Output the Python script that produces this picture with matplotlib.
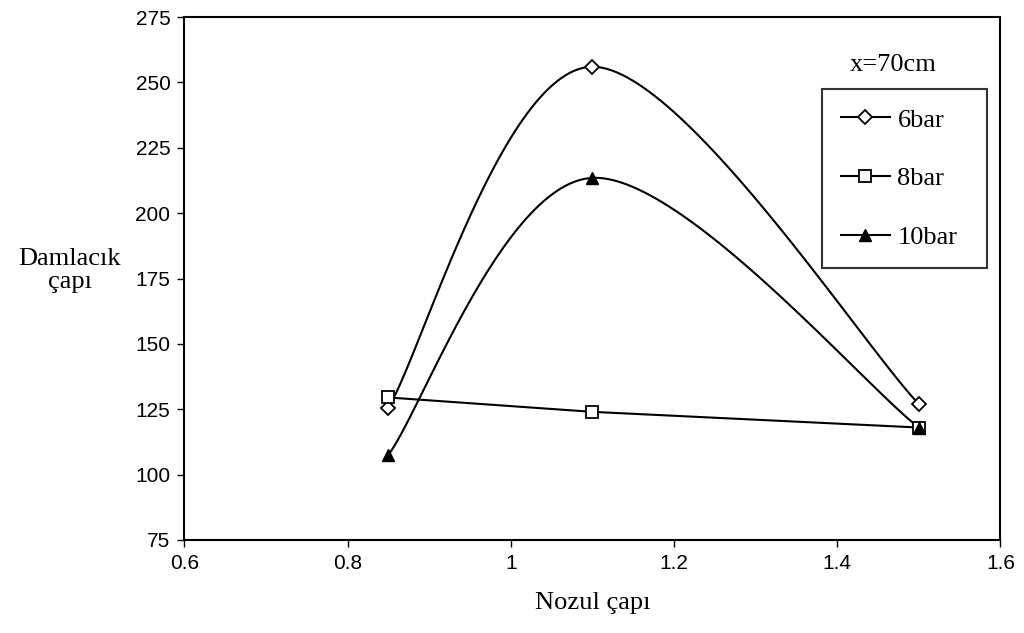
import numpy as np
import matplotlib
matplotlib.use("Agg")
import matplotlib.pyplot as plt
from matplotlib.lines import Line2D

# ── veri ─────────────────────────────────────────────────────────────
nozul = [0.85, 1.1, 1.5]
bar6 = [125.5, 256.0, 127.0]
bar8 = [129.5, 124.0, 118.0]
bar10 = [107.5, 213.5, 118.0]
series_labels = ["6bar", "8bar", "10bar"]

SERIF = ["Liberation Serif", "DejaVu Serif"]
SANS = ["Liberation Sans", "DejaVu Sans"]

fig = plt.figure(figsize=(10.24, 6.33), dpi=100)
ax = fig.add_axes([0.18, 0.147, 0.797, 0.826])
ax.set_xlim(0.6, 1.6)
ax.set_ylim(75, 275)
ax.set_xticks([0.6, 0.8, 1.0, 1.2, 1.4, 1.6])
ax.set_xticklabels(["0.6", "0.8", "1", "1.2", "1.4", "1.6"])
ax.set_yticks(range(75, 276, 25))
ax.tick_params(direction="out", length=5, width=1, labelsize=15, pad=5)
ax.tick_params(axis="x", pad=5)
for lab in ax.get_xticklabels() + ax.get_yticklabels():
    lab.set_family(SANS)
for sp in ax.spines.values():
    sp.set_linewidth(1.5)


def smooth(xs, ys, n=60):
    # Excel tarzı yumuşatma: ekran koordinatlarında Catmull-Rom Bezier
    pts = ax.transData.transform(np.column_stack([xs, ys]))
    P = np.vstack([pts[0], pts, pts[-1]])
    out = []
    for i in range(1, len(P) - 2):
        p0, p3 = P[i], P[i + 1]
        c1 = p0 + (P[i + 1] - P[i - 1]) / 6
        c2 = p3 - (P[i + 2] - P[i]) / 6
        t = np.linspace(0, 1, n)[:, None]
        seg = ((1 - t) ** 3) * p0 + 3 * ((1 - t) ** 2) * t * c1 \
            + 3 * (1 - t) * t ** 2 * c2 + t ** 3 * p3
        out.append(seg)
    out = np.vstack(out)
    d = ax.transData.inverted().transform(out)
    return d[:, 0], d[:, 1]


fig.canvas.draw()

# 6bar
sx, sy = smooth(nozul, bar6)
ax.plot(sx, sy, color="black", lw=1.5, zorder=2)
ax.plot(nozul, bar6, ls="none", marker="D", ms=7, mfc="white", mec="black",
        mew=1.3, zorder=3)
# 8bar (düz çizgi)
ax.plot(nozul, bar8, color="black", lw=1.5, zorder=2)
ax.plot(nozul, bar8, ls="none", marker="s", ms=9, mfc="white", mec="black",
        mew=1.3, zorder=4)
# 10bar
sx, sy = smooth(nozul, bar10)
ax.plot(sx, sy, color="black", lw=1.5, zorder=2)
ax.plot(nozul, bar10, ls="none", marker="^", ms=9, color="black", zorder=5)

ax.set_xlabel("Nozul çapı", family=SERIF, fontsize=19, labelpad=14)
fig.text(0.068, 0.573, "Damlacık\nçapı", family=SERIF, fontsize=19,
         ha="center", va="center", linespacing=1.05)

ax.text(0.869, 0.908, "x=70cm", transform=ax.transAxes, family=SERIF,
        fontsize=19, ha="center", va="center")

handles = [
    Line2D([0], [0], color="black", lw=1.5, marker="D", ms=7, mfc="white",
           mec="black", mew=1.3, label=series_labels[0]),
    Line2D([0], [0], color="black", lw=1.5, marker="s", ms=9, mfc="white",
           mec="black", mew=1.3, label=series_labels[1]),
    Line2D([0], [0], color="black", lw=1.5, marker="^", ms=9,
           label=series_labels[2]),
]
leg = ax.legend(handles=handles, loc="upper left",
                bbox_to_anchor=(0.781, 0.862, 0.202, 0.0), mode="expand",
                frameon=True, fancybox=False,
                edgecolor="black", handlelength=1.85, handletextpad=0.3,
                labelspacing=1.33, borderpad=0.72, borderaxespad=0,
                prop={"family": SERIF, "size": 19})
leg.get_frame().set_linewidth(1.5)

fig.savefig("out.png", dpi=100, facecolor="white")
